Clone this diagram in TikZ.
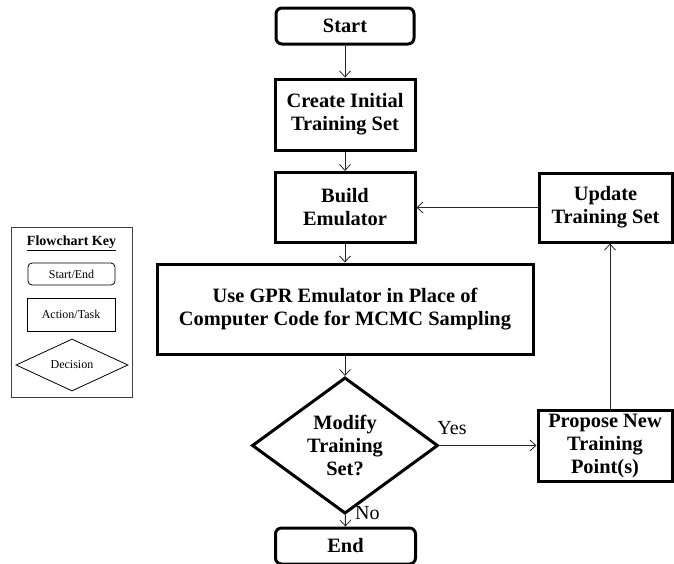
\documentclass[tikz,border=0pt]{standalone}
\usepackage{fontspec}
\setmainfont{Liberation Serif}
\usetikzlibrary{shapes.geometric, arrows.meta}

\begin{document}
\begin{tikzpicture}[x=1pt, y=-1pt, >={Straight Barb[length=6pt, width=11pt]},
    big/.style={font=\bfseries\fontsize{20.4}{23}\selectfont},
    term/.style={big, draw, line width=3pt, rounded corners=6pt, minimum width=138pt, minimum height=36pt, inner sep=0pt},
    task/.style={big, draw, line width=3pt, inner sep=0pt, align=center},
    decide/.style={big, draw, diamond, line width=3pt, inner sep=0pt, align=center},
    link/.style={->, line width=0.8pt, black!85},
    keyitem/.style={draw, line width=0.8pt, inner sep=0pt, font=\fontsize{12}{14}\selectfont}]
        \useasboundingbox (0,0) rectangle (674,563);

        % Main flow
        \node[term] (start) at (345,26) {Start};
        \node[task, minimum width=140pt, minimum height=71pt] (init) at (345,114.5) {Create Initial\\Training Set};
        \node[task, minimum width=140pt, minimum height=70pt] (build) at (345,207.5) {Build\\Emulator};
        \node[task, minimum width=376pt, minimum height=90pt] (gpr) at (345,309) {Use GPR Emulator in Place of\\Computer Code for MCMC Sampling};
        \node[decide, minimum width=186pt, minimum height=125pt] (modify) at (345,445.5) {Modify\\Training\\Set?};
        \node[term, minimum width=140pt] (end) at (345.5,546) {End};

        % Update loop
        \node[task, minimum width=133pt, minimum height=69pt] (update) at (605.5,207.5) {Update\\Training Set};
        \node[task, minimum width=134pt, minimum height=71pt] (propose) at (605,445.5) {Propose New\\Training\\Point(s)};

        \draw[link] (start) -- (init);
        \draw[link] (init) -- (build);
        \draw[link] (build) -- (gpr);
        \draw[link] (gpr) -- (modify);
        \draw[link] (modify) -- (end);
        \draw[link] (modify) -- (propose);
        \draw[link] ([xshift=5pt]propose.north) -- ([xshift=4.5pt]update.south);
        \draw[link] (update) -- (build);

        \node[font=\fontsize{20}{24}\selectfont] (yes) at (452,428) {Yes};
        \node[font=\fontsize{20}{24}\selectfont, anchor=west, inner sep=0pt] (no) at (355,513) {No};

        % Flowchart key
        \node[draw=black!75, line width=0.8pt, minimum width=121pt, minimum height=170pt] (key) at (71.5,312) {};
        \node[font=\bfseries\fontsize{14}{16}\selectfont] (keytitle) at (71.5,243) {\underline{Flowchart Key}};
        \node[keyitem, rounded corners=4pt, minimum width=87pt, minimum height=22pt] (keyterm) at (71.5,274) {Start/End};
        \node[keyitem, minimum width=88pt, minimum height=33pt] (keytask) at (71,314.5) {Action/Task};
        \node[keyitem, diamond, minimum width=112pt, minimum height=52pt] (keydecide) at (72,365) {Decision};
    \end{tikzpicture}
\end{document}
